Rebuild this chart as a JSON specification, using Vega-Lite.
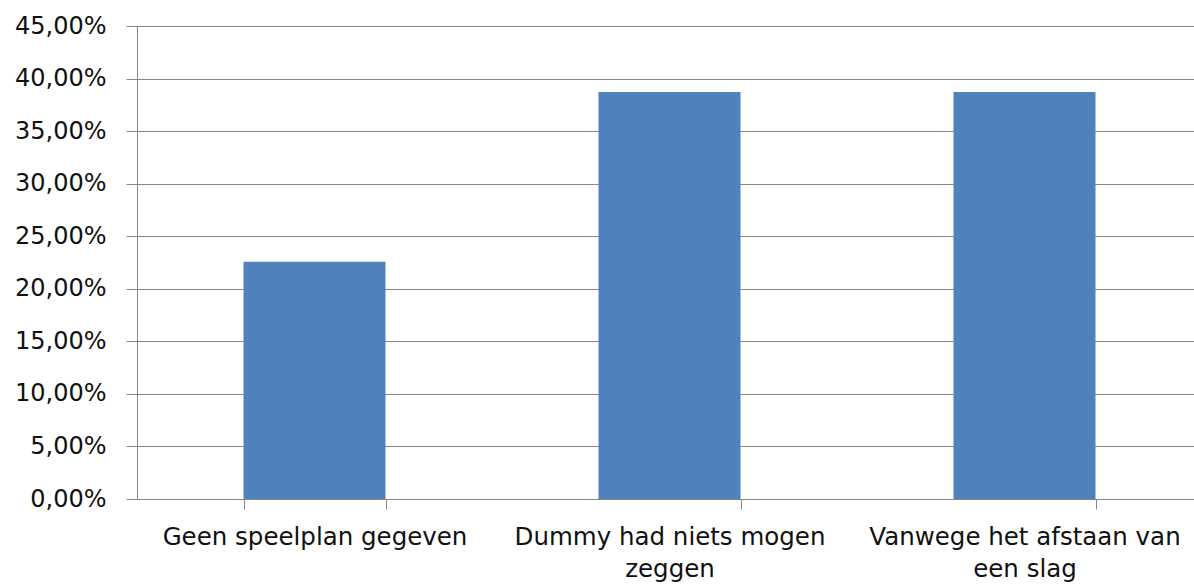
{
  "$schema": "https://vega.github.io/schema/vega-lite/v6.json",
  "width": 1057,
  "height": 473,
  "autosize": {"type": "none"},
  "padding": {"left": 137, "top": 26, "right": 0, "bottom": 85},
  "config": {
    "locale": {"number": {"decimal": ",", "thousands": ".", "grouping": [3], "currency": ["€", ""]}},
    "view": {"stroke": null},
    "font": "DejaVu Sans"
  },
  "data": {
    "values": [
      {"reden": "Geen speelplan gegeven", "aandeel": 0.2258},
      {"reden": "Dummy had niets mogen zeggen", "aandeel": 0.3871},
      {"reden": "Vanwege het afstaan van een slag", "aandeel": 0.3871}
    ]
  },
  "mark": {"type": "bar", "color": "#4F81BD"},
  "encoding": {
    "x": {
      "field": "reden",
      "type": "nominal",
      "sort": null,
      "scale": {"paddingInner": 0.6, "paddingOuter": 0.3, "range": [0, 1065]},
      "axis": {
        "title": null,
        "labelAngle": 0,
        "tickBand": "extent",
        "tickSize": 10,
        "tickColor": "#868686",
        "domainColor": "#868686",
        "labelFont": "DejaVu Sans",
        "labelFontSize": 24.5,
        "labelColor": "#111111",
        "labelPadding": 16,
        "labelLineHeight": 32,
        "labelLimit": 0,
        "labelExpr": "datum.value == 'Dummy had niets mogen zeggen' ? ['Dummy had niets mogen', 'zeggen'] : datum.value == 'Vanwege het afstaan van een slag' ? ['Vanwege het afstaan van', 'een slag'] : datum.value"
      }
    },
    "y": {
      "field": "aandeel",
      "type": "quantitative",
      "scale": {"domain": [0, 0.45]},
      "axis": {
        "title": null,
        "values": [0, 0.05, 0.1, 0.15, 0.2, 0.25, 0.3, 0.35, 0.4, 0.45],
        "format": ".2%",
        "gridColor": "#868686",
        "domainColor": "#868686",
        "tickColor": "#868686",
        "tickSize": 11,
        "labelPadding": 20,
        "labelFont": "DejaVu Sans",
        "labelFontSize": 24,
        "labelColor": "#111111"
      }
    }
  }
}
